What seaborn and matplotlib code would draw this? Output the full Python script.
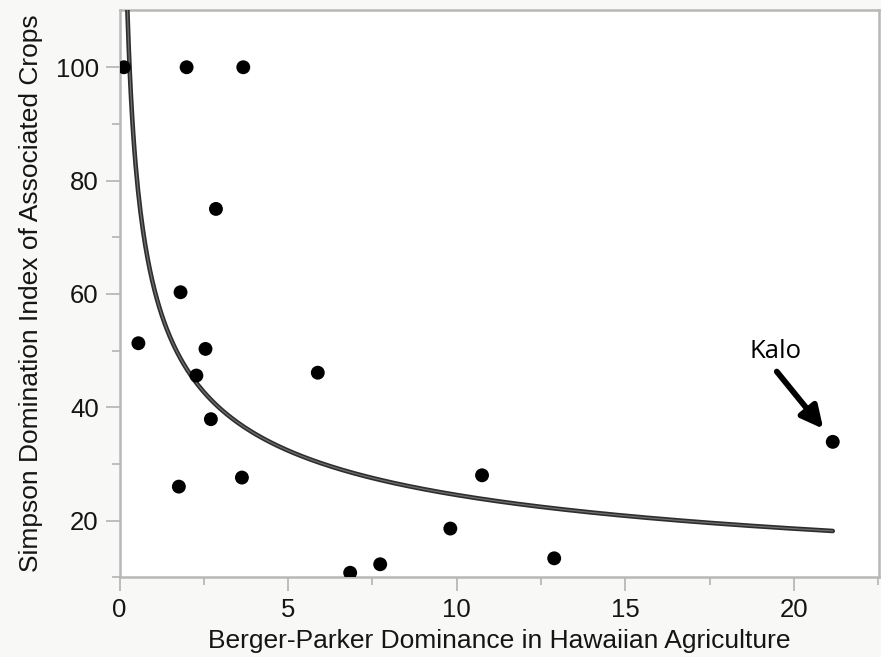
import numpy as np
import pandas as pd
import matplotlib
matplotlib.use("Agg")
import matplotlib.pyplot as plt
import seaborn as sns

# ---- data ----
berger_parker = [0.13, 1.99, 3.67, 2.86, 1.81, 0.56, 2.55, 2.28, 5.88, 2.71,
                 1.76, 3.63, 6.84, 7.73, 10.75, 9.81, 12.89, 21.15]
simpson = [100.0, 100.0, 100.0, 75.0, 60.3, 51.3, 50.3, 45.6, 46.1, 37.9,
           26.0, 27.6, 10.8, 12.3, 28.0, 18.6, 13.35, 33.9]

# fitted power-law curve y = fit_a * x ** fit_b (parameters)
fit_a = 61.6
fit_b = -0.40

x_ticks = [0, 5, 10, 15, 20]
y_ticks = [20, 40, 60, 80, 100]

x_label = "Berger-Parker Dominance in Hawaiian Agriculture"
y_label = "Simpson Domination Index of Associated Crops"
note_text = "Kalo"

df = pd.DataFrame({"bp": berger_parker, "simpson": simpson})

xs = np.linspace(min(berger_parker), max(berger_parker), 600)
curve = pd.DataFrame({"x": xs, "y": fit_a * xs ** fit_b})

# ---- figure ----
sns.set_theme(style="white")
plt.rcParams["font.family"] = ["Liberation Sans", "DejaVu Sans"]

fig = plt.figure(figsize=(8.81, 6.57), dpi=100, facecolor="#f8f8f6")
ax = fig.add_axes([119.5 / 881, 1 - 577.3 / 657, (879.3 - 119.5) / 881, (577.3 - 10.0) / 657])
ax.set_facecolor("white")

sns.lineplot(data=curve, x="x", y="y", ax=ax, color="#2e2e2e", linewidth=3.3,
             sort=False, estimator=None, zorder=3)
sns.lineplot(data=curve, x="x", y="y", ax=ax, color="#707070", linewidth=0.9,
             sort=False, estimator=None, zorder=3.1)
sns.scatterplot(data=df, x="bp", y="simpson", ax=ax, color="black", s=100,
                edgecolor="none", zorder=4)

ax.set_xlim(0, 22.53)
ax.set_ylim(10, 110.1)
ax.set_xticks(x_ticks)
ax.set_yticks(y_ticks)
ax.set_xticks(np.arange(2.5, 22.6, 5), minor=True)
ax.set_yticks(np.arange(10, 110, 20), minor=True)

for side in ["left", "bottom", "top", "right"]:
    ax.spines[side].set_visible(True)
    ax.spines[side].set_color("#b8b8b8")
    ax.spines[side].set_linewidth(1.8)

ax.tick_params(axis="both", which="major", direction="out", length=10, width=1.3,
               color="#b8b8b8", labelsize=18.5, labelcolor="#151515", pad=5,
               bottom=True, left=True)
ax.tick_params(axis="both", which="minor", direction="out", length=5.5, width=1.3,
               color="#b8b8b8", bottom=True, left=True)

ax.set_xlabel(x_label, fontsize=19, color="#151515", labelpad=5)
ax.set_ylabel(y_label, fontsize=19, color="#151515", labelpad=9)

ax.annotate("", xy=(20.87, 36.2), xytext=(19.49, 46.3),
            arrowprops=dict(arrowstyle="-|>,head_length=1.1,head_width=0.55",
                            color="black", lw=4.2, shrinkA=0, shrinkB=0),
            zorder=5)
ax.text(19.46, 49.9, note_text, fontsize=18.5, color="black",
        family=["Open Sans", "DejaVu Sans"], ha="center", va="center", zorder=5)

fig.savefig("out.png", dpi=100, facecolor=fig.get_facecolor())
